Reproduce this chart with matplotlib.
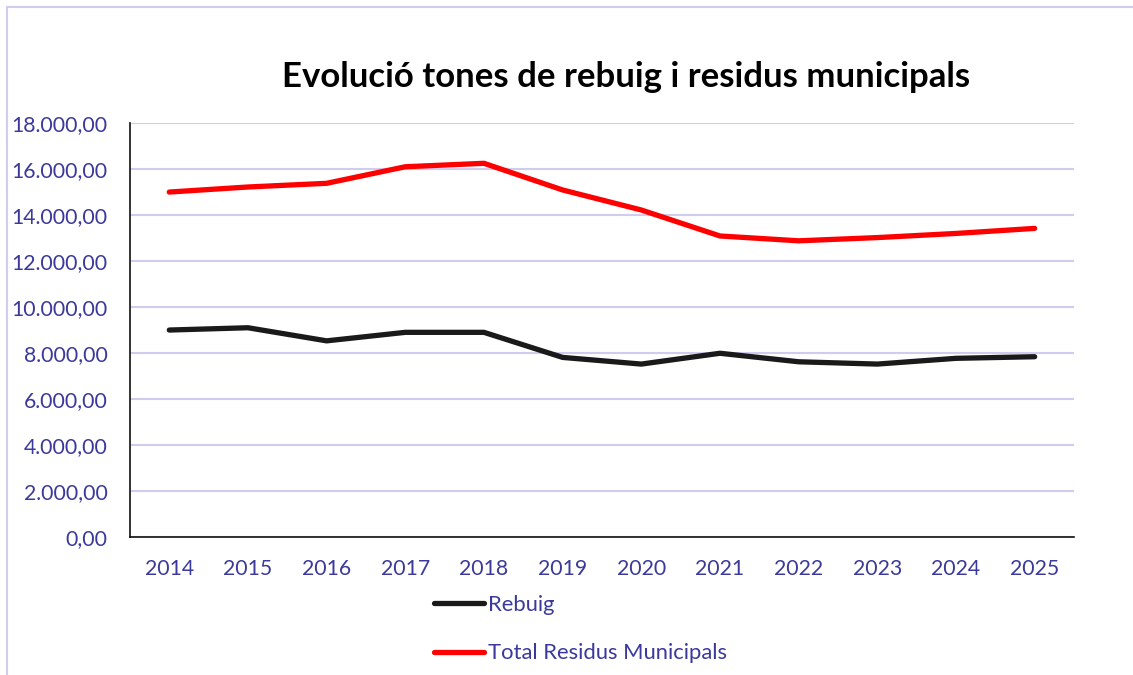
import matplotlib
matplotlib.use('Agg')
import matplotlib.pyplot as plt
from matplotlib.ticker import FuncFormatter

years = ['2014', '2015', '2016', '2017', '2018', '2019', '2020', '2021', '2022', '2023', '2024', '2025']
rebuig = [9000, 9100, 8530, 8900, 8900, 7810, 7520, 7990, 7620, 7520, 7770, 7840]
total_rm = [15000, 15220, 15380, 16100, 16250, 15090, 14220, 13090, 12880, 13020, 13200, 13420]

label_color = '#3B3A9C'
grid_color = '#D0CCEE'

plt.rcParams['font.family'] = ['Lato', 'DejaVu Sans']

fig = plt.figure(figsize=(11.33, 6.75), dpi=100)
ax = fig.add_axes([0.1147, 0.2044, 0.8332, 0.6133])

x = range(len(years))
ax.plot(x, rebuig, color='#1a1a1a', lw=3.8, solid_capstyle='round', solid_joinstyle='round', label='Rebuig')
ax.plot(x, total_rm, color='#ff0000', lw=3.8, solid_capstyle='round', solid_joinstyle='round',
        label='Total Residus Municipals')

ax.set_xlim(-0.5, len(years) - 0.5)
ax.set_ylim(0, 18000)
ax.set_xticks(list(x))
ax.set_xticklabels(years)
ax.set_yticks(range(0, 18001, 2000))
ax.yaxis.set_major_formatter(FuncFormatter(lambda v, p: f'{v:,.2f}'.replace(',', 'X').replace('.', ',').replace('X', '.')))

ax.grid(axis='y', color=grid_color, lw=1.5)
ax.set_axisbelow(True)
for s in ['top', 'right']:
    ax.spines[s].set_visible(False)
for s in ['left', 'bottom']:
    ax.spines[s].set_color('#111111')
    ax.spines[s].set_linewidth(1.2)
ax.tick_params(axis='both', length=0, labelsize=15.3, colors=label_color)
ax.tick_params(axis='y', pad=16)
ax.tick_params(axis='x', pad=16)

fig.text(0.553, 0.886, 'Evolució tones de rebuig i residus municipals', ha='center', va='center',
         fontsize=25, fontweight='bold', color='black')

leg = fig.legend(loc='upper left', bbox_to_anchor=(0.373, 0.135), frameon=False, fontsize=15.8,
                 handlelength=2.3, handletextpad=0.2, labelspacing=1.3, borderpad=0)
for t in leg.get_texts():
    t.set_color(label_color)

# chart frame
fig.add_artist(plt.Line2D([7 / 1133, 1], [1 - 7 / 675, 1 - 7 / 675], color=grid_color, lw=1.5))
fig.add_artist(plt.Line2D([7 / 1133, 7 / 1133], [0, 1 - 7 / 675], color=grid_color, lw=1.5))

fig.savefig('out.png', dpi=100)
plt.close()
